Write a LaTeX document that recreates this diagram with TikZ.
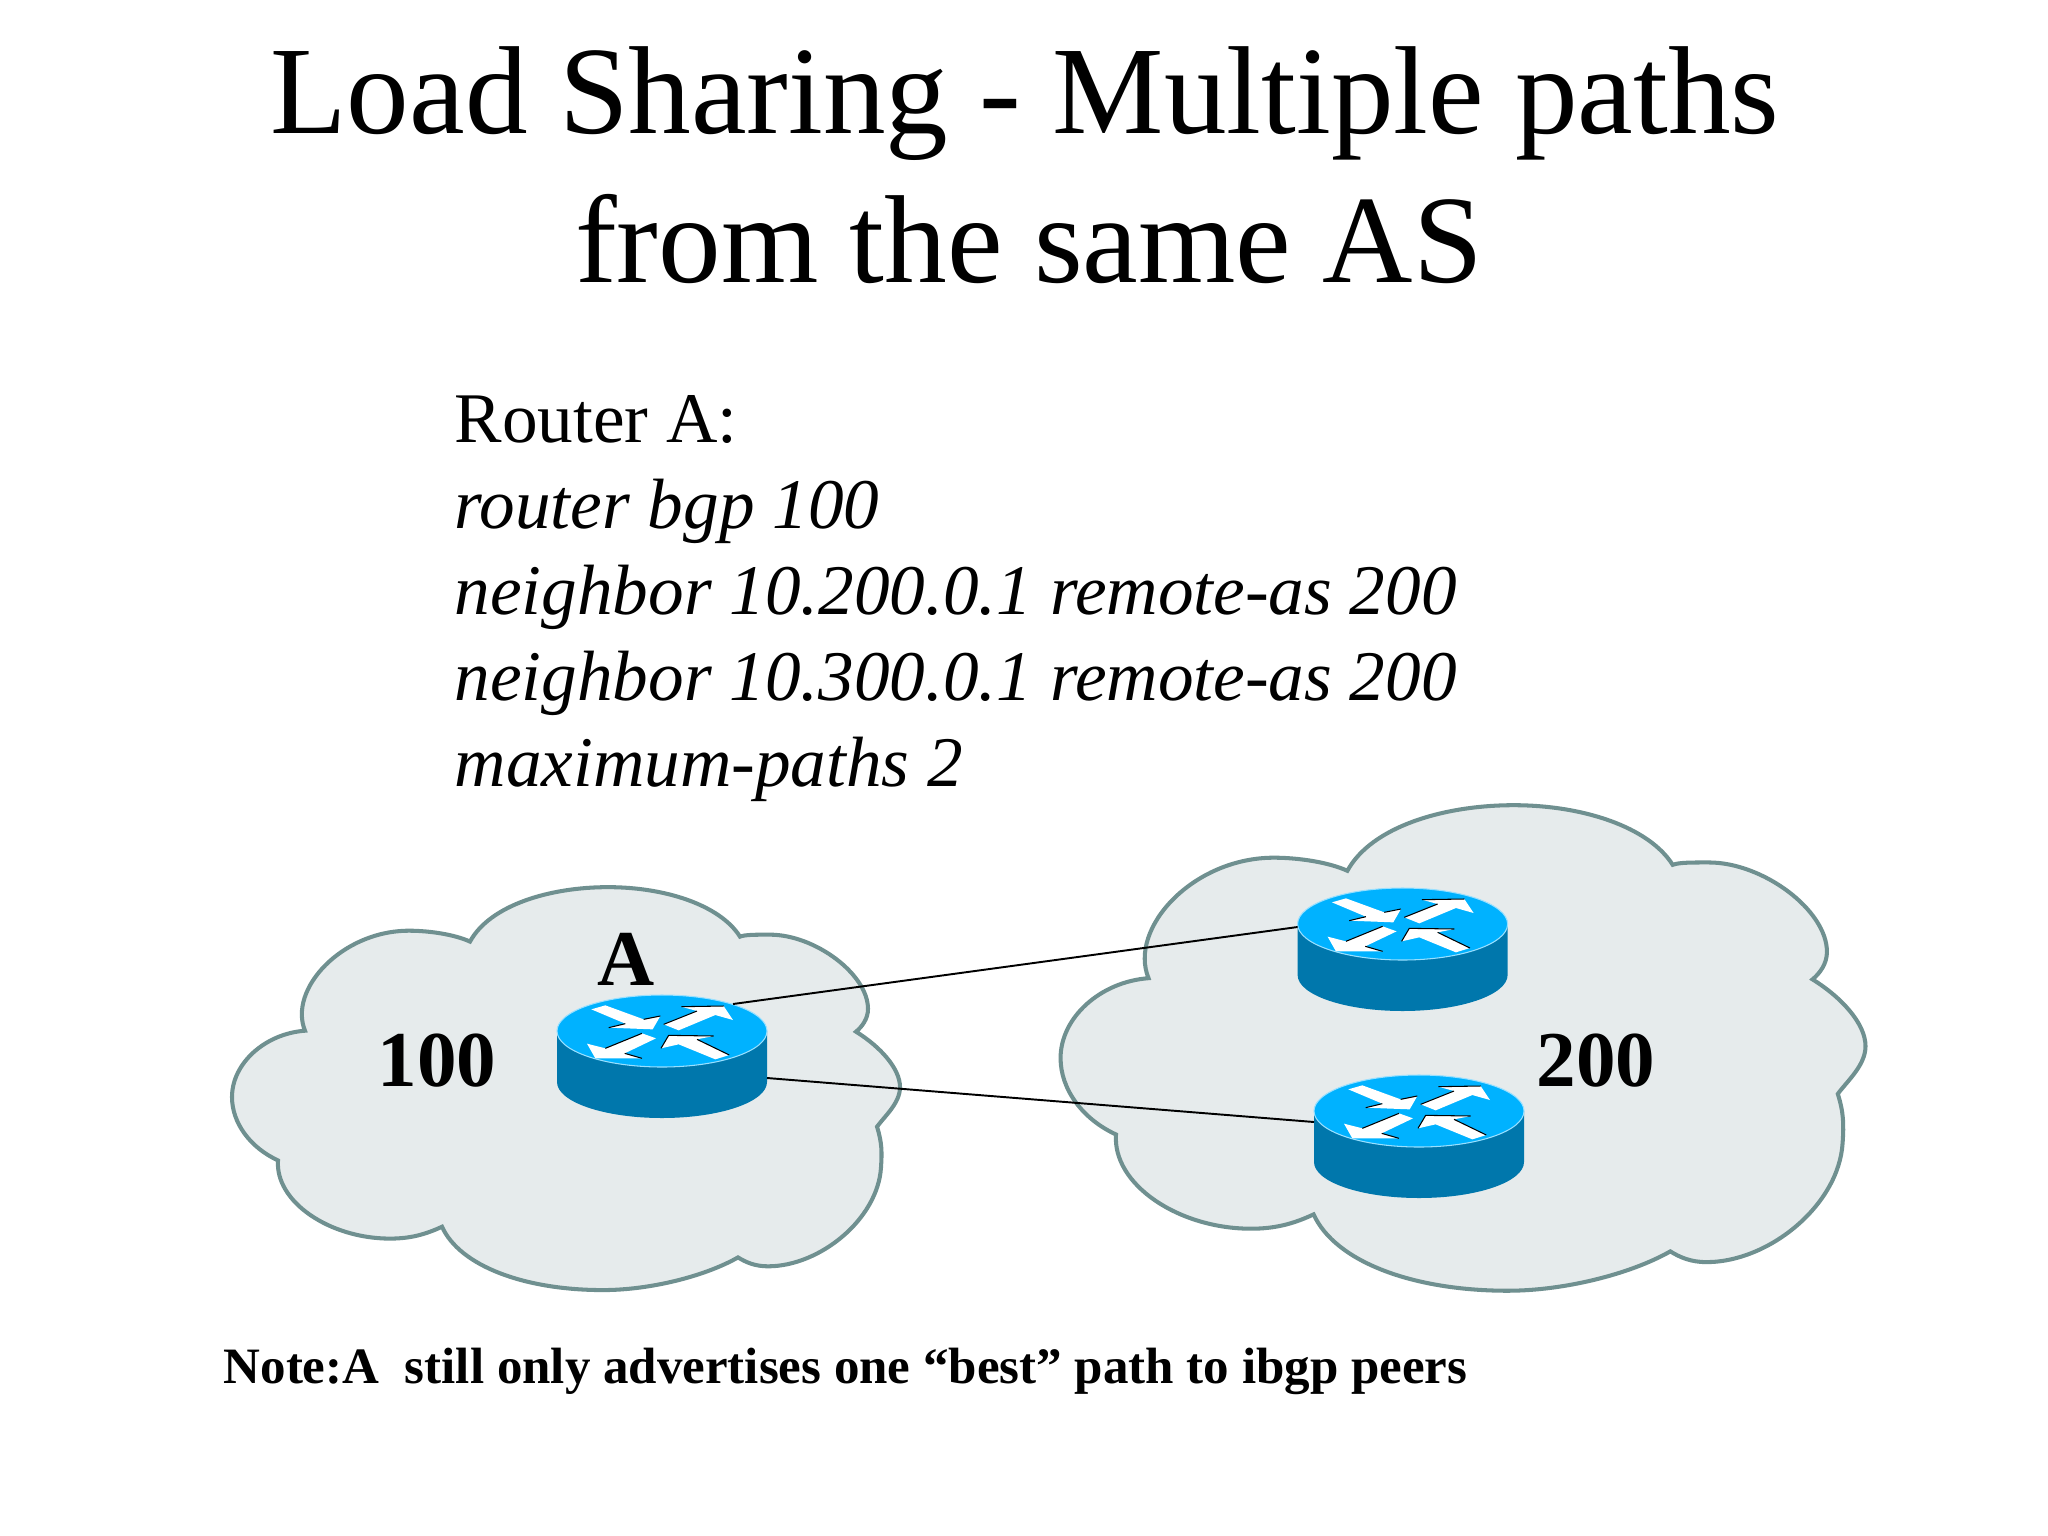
\documentclass[tikz,border=0pt]{standalone}
\usepackage{fontspec}
\setmainfont{Liberation Serif}
\definecolor{cloudfill}{HTML}{E6EBEC}
\definecolor{cloudline}{HTML}{6F9090}
\definecolor{rtop}{HTML}{00B2FF}
\definecolor{rside}{HTML}{0077AC}
\newcommand{\cloudshape}{
  (470,942) .. controls (490,905) and (550,887) .. (608,887)
  .. controls (665,887) and (720,905) .. (740,937)
  .. controls (745,935) and (755,935) .. (770,935)
  .. controls (815,935) and (868,975) .. (868,1010)
  .. controls (868,1020) and (862,1028) .. (856,1033)
  .. controls (880,1048) and (900,1070) .. (900,1089)
  .. controls (900,1105) and (885,1118) .. (877,1129)
  .. controls (882,1145) and (882,1155) .. (881,1170)
  .. controls (878,1222) and (820,1270) .. (768,1270)
  .. controls (755,1270) and (746,1266) .. (738,1261)
  .. controls (705,1280) and (650,1294) .. (603,1294)
  .. controls (525,1294) and (460,1270) .. (442,1230)
  .. controls (425,1238) and (410,1242) .. (390,1242)
  .. controls (330,1242) and (275,1205) .. (278,1163)
  .. controls (250,1150) and (232,1125) .. (232,1099)
  .. controls (232,1065) and (265,1035) .. (305,1032)
  .. controls (288,990) and (342,931) .. (409,931)
  .. controls (430,931) and (455,935) .. (470,942) -- cycle}
\tikzset{
  x=0.01cm,y=-0.01cm,
  cloudstyle/.style={fill=cloudfill,draw=cloudline,line width=1.15pt,line join=miter},
  arrowfill/.style={fill=white,draw=none},
  arrowedge/.style={draw=black,line width=0.3pt},
  link/.style={draw=black,line width=0.55pt},
  titletext/.style={anchor=base,inner sep=0pt,font=\fontsize{35.6}{36}\selectfont},
  bodytext/.style={anchor=base west,inner sep=0pt,font=\fontsize{20.25}{22}\selectfont},
  astext/.style={anchor=base,inner sep=0pt,font=\bfseries\fontsize{22.5}{24}\selectfont},
  notetext/.style={anchor=base west,inner sep=0pt,font=\bfseries\fontsize{14.5}{15}\selectfont},
  router/.pic={
    \fill[rside] (-105,0) -- (-105,51) arc[start angle=180,end angle=0,x radius=105,y radius=36] -- (105,0) -- cycle;
    \fill[rtop,draw=white!60!rtop,line width=0.3pt] (0,0) ellipse[x radius=105,y radius=36];
    \begin{scope}[scale=0.3333,shift={(-490,-240)}]
      \fill[arrowfill] (278,175) -- (320,163) -- (435,205) -- (485,195) -- (462,235) -- (330,230) -- (380,218) -- cycle;
      \fill[arrowfill] (495,220) -- (595,180) -- (548,167) -- (675,165) -- (703,207) -- (650,192) -- (540,238) -- cycle;
      \fill[arrowfill] (472,262) -- (430,247) -- (320,292) -- (265,278) -- (290,322) -- (430,322) -- (378,307) -- cycle;
      \fill[arrowfill] (692,312) -- (595,265) -- (645,255) -- (510,253) -- (487,292) -- (540,280) -- (650,325) -- cycle;
      \draw[arrowedge] (435,205) -- (485,195) (330,230) -- (380,218)
        (495,220) -- (595,180) (548,167) -- (675,165)
        (430,247) -- (320,292) (378,307) -- (430,322)
        (645,255) -- (510,253) -- (487,292) (595,265) -- (692,312);
    \end{scope}
    \coordinate (-ne) at (71,-27);
    \coordinate (-se) at (105,47);
    \coordinate (-wa) at (-105,3);
    \coordinate (-wb) at (-105,11);
  }
}
\begin{document}
\begin{tikzpicture}
\useasboundingbox (0,0) rectangle (2048,1536);
\fill[white] (0,0) rectangle (2048,1536);
\node[titletext] (t1) at (1025,133) {Load Sharing - Multiple paths};
\node[titletext] (t2) at (1029,282) {from the same AS};
\node[bodytext] (b1) at (454,442) {Router A:};
\node[bodytext] (b2) at (454,528) {\itshape router bgp 100};
\node[bodytext] (b3) at (454,614) {\itshape neighbor 10.200.0.1 remote-as 200};
\node[bodytext] (b4) at (454,700) {\itshape neighbor 10.300.0.1 remote-as 200};
\node[bodytext] (b5) at (454,786) {\itshape maximum-paths 2};
\begin{scope}[shift={(0,9)},yscale=0.99]
\draw[cloudstyle] \cloudshape;
\end{scope}
\begin{scope}[shift={(781,-253)},xscale=1.205,yscale=1.193]
\draw[cloudstyle] \cloudshape;
\end{scope}
\pic (ra) at (662,1031) {router};
\pic (rb) at (1402.6,924) {router};
\pic (rc) at (1419,1111) {router};
\draw[link] (ra-ne) -- (rb-wa);
\draw[link] (ra-se) -- (rc-wb);
\node[astext] (la) at (626,985) {A};
\node[astext] (l100) at (437,1086) {100};
\node[astext] (l200) at (1596,1086) {200};
\node[notetext] (note) at (223,1383) {Note:A\ \ still only advertises one “best” path to ibgp peers};
\end{tikzpicture}
\end{document}
